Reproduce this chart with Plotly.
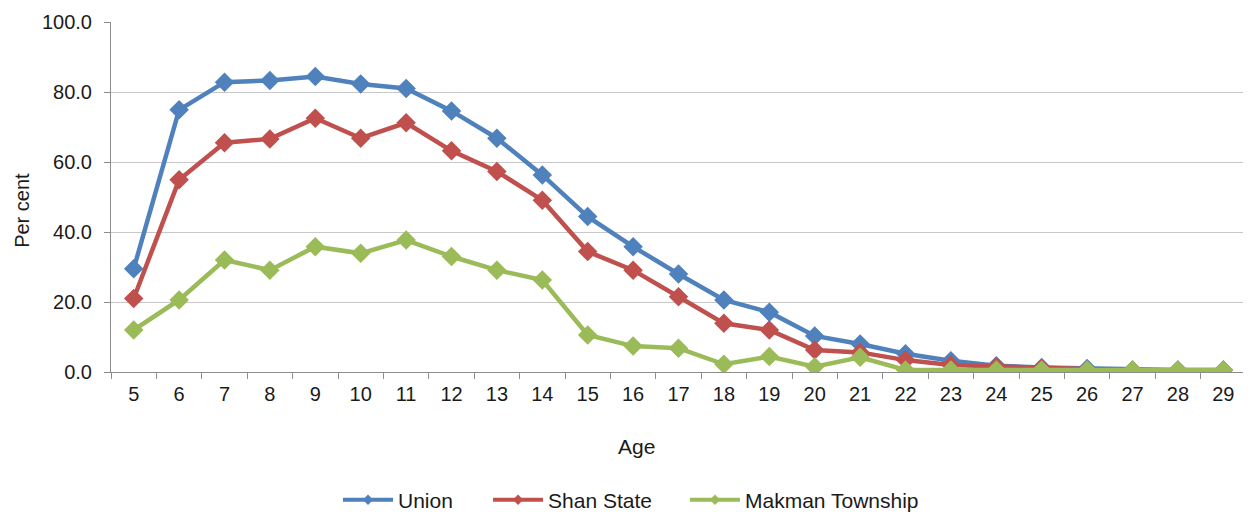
import plotly.graph_objects as go

ages = [str(a) for a in range(5, 30)]
union = [29.5, 74.9, 82.8, 83.3, 84.4, 82.3, 81.0, 74.6, 66.8, 56.3, 44.4, 35.8, 28.0, 20.6, 17.1, 10.3, 8.0, 5.2, 3.2, 1.8, 1.3, 1.0, 0.6, 0.6, 0.6]
shan = [21.0, 54.9, 65.5, 66.6, 72.5, 66.8, 71.2, 63.2, 57.3, 49.1, 34.4, 29.1, 21.5, 13.9, 12.0, 6.3, 5.6, 3.4, 2.0, 1.6, 1.0, 0.6, 0.5, 0.5, 0.5]
makman = [12.0, 20.6, 32.0, 29.1, 35.8, 33.9, 37.7, 33.0, 29.1, 26.3, 10.6, 7.4, 6.8, 2.2, 4.4, 1.5, 4.2, 0.6, 0.6, 0.6, 0.6, 0.6, 0.6, 0.6, 0.6]

series = [("Union", union, "#4F81BD"), ("Shan State", shan, "#C0504D"), ("Makman Township", makman, "#9BBB59")]
legend_ids = ["legend", "legend2", "legend3"]
legend_x = [0.2, 0.3322, 0.5057]

FS = 20
fig = go.Figure()
for name, vals, col in series:
    fig.add_trace(go.Scatter(x=ages, y=vals, name=name, mode="lines+markers", showlegend=False,
                             line=dict(color=col, width=4.5),
                             marker=dict(symbol="diamond", size=15, color=col)))
for (name, vals, col), lid in zip(series, legend_ids):
    fig.add_trace(go.Scatter(x=[None], y=[None], name=name, mode="lines+markers", showlegend=True,
                             legend=lid,
                             line=dict(color=col, width=4),
                             marker=dict(symbol="diamond", size=8, color=col)))

legend_common = dict(orientation="h", xanchor="left", y=-0.366, yanchor="middle",
                     font=dict(size=21), itemwidth=50, bgcolor="rgba(0,0,0,0)")
layout_legends = {lid: dict(x=lx, **legend_common) for lid, lx in zip(legend_ids, legend_x)}

fig.update_layout(
    width=1243, height=508,
    margin=dict(l=103, r=5, t=14, b=144, autoexpand=False),
    paper_bgcolor="white", plot_bgcolor="white",
    font=dict(family="Liberation Sans, Arial, sans-serif", size=FS, color="#1a1a1a"),
    showlegend=True,
    annotations=[
        dict(text="Age", xref="paper", yref="paper", x=0.4634, y=-0.214,
             xanchor="center", yanchor="middle", showarrow=False, font=dict(size=21)),
        dict(text="Per cent", xref="paper", yref="paper", x=-0.0785, y=0.463,
             xanchor="center", yanchor="middle", showarrow=False, textangle=-90,
             font=dict(size=20)),
    ],
    **layout_legends,
)
fig.update_xaxes(type="category", automargin=False,
                 showline=True, linecolor="#8C8C8C", linewidth=1,
                 ticks="outside", tickcolor="#8C8C8C", ticklen=6, tickson="boundaries",
                 ticklabelstandoff=4,
                 showgrid=False, range=[-0.5, 24.5])
fig.update_yaxes(range=[0, 100], dtick=20, tickformat=".1f",
                 automargin=False,
                 showline=True, linecolor="#8C8C8C", linewidth=1,
                 ticks="outside", tickcolor="#8C8C8C", ticklen=6,
                 ticklabelstandoff=8,
                 showgrid=True, gridcolor="#C8C8C8", gridwidth=1, zeroline=False)

fig.write_html("out.html")
